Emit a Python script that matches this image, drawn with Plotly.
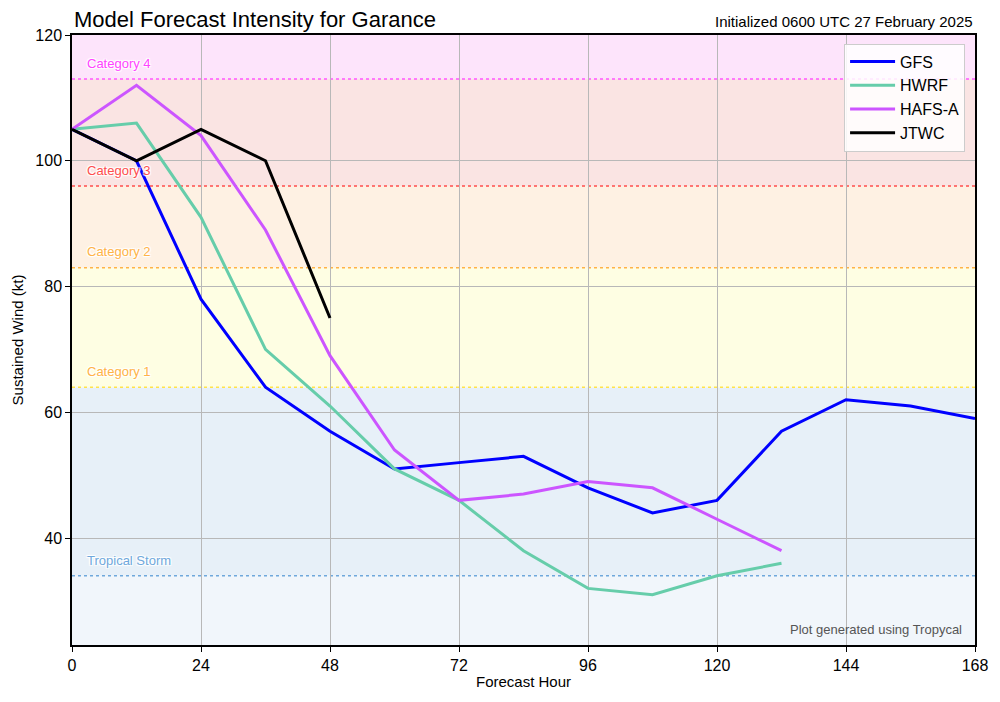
import plotly.graph_objects as go

hours = [0, 12, 24, 36, 48, 60, 72, 84, 96, 108, 120, 132, 144, 156, 168]
gfs = [105, 100, 78, 64, 57, 51, 52, 53, 48, 44, 46, 57, 62, 61, 59]
hwrf = [105, 106, 91, 70, 61, 51, 46, 38, 32, 31, 34, 36]
hafs = [105, 112, 104, 89, 69, 54, 46, 47, 49, 48, 43, 38]
jtwc = [105, 100, 105, 100, 75]

x_ticks = [0, 24, 48, 72, 96, 120, 144, 168]
y_ticks = [40, 60, 80, 100, 120]

# category thresholds
cat_names = ["Tropical Storm", "Category 1", "Category 2", "Category 3", "Category 4"]
cat_thresh = [34, 64, 83, 96, 113]
cat_line_colors = ["#6fa8dc", "#ffe34a", "#ffb347", "#ff4d4d", "#ff55ff"]
band_bounds = [23, 34, 64, 83, 96, 113, 120]
band_colors = ["#f1f6fb", "#e7f0f8", "#fefee3", "#fef1e3", "#fae4e3", "#fde4fb"]

font = "Liberation Sans"
fig = go.Figure()

series = [("GFS", gfs, "#0000ff"), ("HWRF", hwrf, "#66cdaa"), ("HAFS-A", hafs, "#cc55ff"), ("JTWC", jtwc, "#000000")]
for name, vals, col in series:
    fig.add_trace(go.Scatter(x=hours[:len(vals)], y=vals, mode="lines", name=name,
                             line=dict(color=col, width=3)))

shapes = []
for i, c in enumerate(band_colors):
    shapes.append(dict(type="rect", xref="x", yref="y", x0=0, x1=168, y0=band_bounds[i], y1=band_bounds[i + 1],
                       fillcolor=c, line=dict(width=0), layer="below"))
for t, c in zip(cat_thresh, cat_line_colors):
    shapes.append(dict(type="line", xref="x", yref="y", x0=0, x1=168, y0=t, y1=t,
                       line=dict(color=c, width=1.5, dash="dot"), layer="below"))

annotations = []
label_colors = ["#6fa8dc", "#ffb347", "#ffb347", "#ff4d4d", "#ff44ff"]
for name, t, c in zip(cat_names, cat_thresh, label_colors):
    annotations.append(dict(x=2.5, y=t + 1.0, xref="x", yref="y", text=name, showarrow=False,
                            xanchor="left", yanchor="bottom",
                            font=dict(family=font, size=13, color=c,
                                      shadow="1px 1px 1px white, -1px -1px 1px white, 1px -1px 1px white, -1px 1px 1px white")))
annotations.append(dict(x=0, y=1.0, xref="paper", yref="paper", text="Model Forecast Intensity for Garance",
                        showarrow=False, xanchor="left", yanchor="bottom", yshift=1,
                        font=dict(family=font, size=22, color="#000")))
annotations.append(dict(x=1, y=1.0, xref="paper", yref="paper", text="Initialized 0600 UTC 27 February 2025",
                        showarrow=False, xanchor="right", yanchor="bottom", yshift=3,
                        font=dict(family=font, size=15, color="#000")))
annotations.append(dict(x=0.988, y=0.01, xref="paper", yref="paper", text="Plot generated using Tropycal",
                        showarrow=False, xanchor="right", yanchor="bottom",
                        font=dict(family=font, size=13, color="#555")))

fig.update_layout(
    width=1000, height=702,
    margin=dict(l=72, r=23, t=35, b=57),
    paper_bgcolor="white", plot_bgcolor="white",
    font=dict(family=font, size=16, color="#000"),
    shapes=shapes, annotations=annotations,
    showlegend=True,
    legend=dict(x=0.989, y=0.986, xanchor="right", yanchor="top", bgcolor="rgba(255,255,255,0.85)",
                bordercolor="#cccccc", borderwidth=1, font=dict(family=font, size=16),
                itemwidth=45, tracegroupgap=2),
)
fig.update_xaxes(range=[0, 168], tickvals=x_ticks, showgrid=True, gridcolor="#b8b8b8", gridwidth=1,
                 showline=True, linecolor="#000", linewidth=1.5, mirror=True, ticks="outside", ticklen=5,
                 tickcolor="#000", zeroline=False,
                 title=dict(text="Forecast Hour", font=dict(size=15), standoff=4))
fig.update_yaxes(range=[23, 120], tickvals=y_ticks, showgrid=True, gridcolor="#b8b8b8", gridwidth=1,
                 showline=True, linecolor="#000", linewidth=1.5, mirror=True, ticks="outside", ticklen=5,
                 tickcolor="#000", zeroline=False,
                 title=dict(text="Sustained Wind (kt)", font=dict(size=15), standoff=8))

fig.write_html("out.html")
